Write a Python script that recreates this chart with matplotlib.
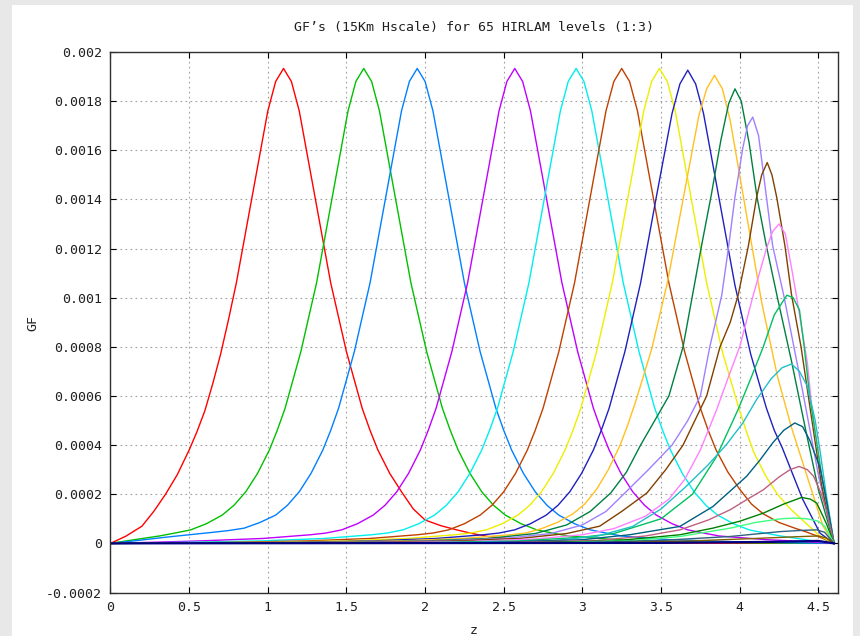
"""
GF weighting functions for 65 HIRLAM levels (every 3rd level) - gnuplot look-alike
"""
import matplotlib
matplotlib.use('Agg')  # no display
import matplotlib.pyplot as plt
import numpy as np
from matplotlib.patches import Rectangle

plt.rcParams['font.family'] = ['DejaVu Sans Mono', 'DejaVu Sans']

# GF values below in units of 1e-4
GF_UNIT = 1e-4

levels = [1, 4, 7, 10, 13, 16, 19, 22, 25, 28, 31, 34, 37, 40, 43, 46, 49, 52, 55, 58, 61, 64]
colors = ['#ff0000', '#00c000', '#0080ff', '#c000ff', '#00eeee', '#c04000', '#eeee00', '#2020c0',
          '#ffc020', '#008040', '#a080ff', '#804000', '#ff80ff', '#00c060', '#20c0c8', '#006080',
          '#c06080', '#008000', '#40ff80', '#306080', '#806000', '#000080']

z_01 = [0.0, 0.1, 0.2, 0.275, 0.35, 0.425, 0.5, 0.55, 0.6, 0.65, 0.7, 0.75, 0.8, 0.9, 1.0, 1.05,
        1.1, 1.15, 1.2, 1.3, 1.4, 1.5, 1.6, 1.65, 1.7, 1.775, 1.85, 1.925, 2.0, 2.1, 2.2, 2.3,
        2.4, 2.55, 2.7, 2.9, 3.1, 3.6, 4.6]
gf_01 = [0.0, 0.3, 0.7, 1.3, 2.0, 2.8, 3.8, 4.55, 5.4, 6.5, 7.7, 9.1, 10.6, 14.1, 17.6, 18.8,
         19.33, 18.8, 17.6, 14.1, 10.6, 7.8, 5.5, 4.6, 3.8, 2.85, 2.1, 1.4, 0.95, 0.72, 0.55, 0.4,
         0.28, 0.18, 0.11, 0.07, 0.04, 0.01, 0.0]

z_02 = [0.0, 0.1, 0.31, 0.41, 0.51, 0.61, 0.71, 0.785, 0.86, 0.935, 1.01, 1.06, 1.11, 1.21, 1.31,
        1.41, 1.51, 1.56, 1.61, 1.66, 1.71, 1.81, 1.91, 2.01, 2.11, 2.16, 2.21, 2.285, 2.36, 2.435,
        2.51, 2.61, 2.71, 2.81, 2.91, 3.21, 3.61, 4.1, 4.6]
gf_02 = [0.0, 0.1, 0.3, 0.42, 0.55, 0.8, 1.15, 1.55, 2.1, 2.85, 3.8, 4.6, 5.5, 7.8, 10.6,
         14.1, 17.6, 18.8, 19.33, 18.8, 17.6, 14.1, 10.6, 7.8, 5.5, 4.6, 3.8, 2.85, 2.1, 1.55,
         1.15, 0.8, 0.55, 0.42, 0.3, 0.15, 0.07, 0.02, 0.0]

z_03 = [0.0, 0.15, 0.35, 0.65, 0.75, 0.85, 0.95, 1.05, 1.125, 1.2, 1.275, 1.35, 1.4, 1.45, 1.55,
        1.65, 1.75, 1.85, 1.9, 1.95, 2.0, 2.05, 2.15, 2.25, 2.35, 2.45, 2.5, 2.55, 2.625, 2.7,
        2.775, 2.85, 2.95, 3.05, 3.15, 3.25, 3.55, 3.95, 4.3, 4.6]
gf_03 = [0.0, 0.1, 0.25, 0.45, 0.52, 0.62, 0.85, 1.15, 1.55, 2.1, 2.85, 3.8, 4.6, 5.5, 7.8,
         10.6, 14.1, 17.6, 18.8, 19.33, 18.8, 17.6, 14.1, 10.6, 7.8, 5.5, 4.6, 3.8, 2.85, 2.1,
         1.55, 1.15, 0.8, 0.55, 0.42, 0.3, 0.15, 0.07, 0.03, 0.0]

z_04 = [0.0, 0.3, 0.57, 0.97, 1.27, 1.37, 1.47, 1.57, 1.67, 1.745, 1.82, 1.895, 1.97, 2.02, 2.07,
        2.17, 2.27, 2.37, 2.47, 2.52, 2.57, 2.62, 2.67, 2.77, 2.87, 2.97, 3.07, 3.12, 3.17, 3.245,
        3.32, 3.395, 3.47, 3.57, 3.67, 3.77, 3.87, 4.17, 4.4, 4.6]
gf_04 = [0.0, 0.05, 0.1, 0.2, 0.35, 0.42, 0.55, 0.8, 1.15, 1.55, 2.1, 2.85, 3.8, 4.6, 5.5,
         7.8, 10.6, 14.1, 17.6, 18.8, 19.33, 18.8, 17.6, 14.1, 10.6, 7.8, 5.5, 4.6, 3.8, 2.85,
         2.1, 1.55, 1.15, 0.8, 0.55, 0.42, 0.3, 0.15, 0.08, 0.0]

z_05 = [0.0, 0.46, 0.96, 1.36, 1.66, 1.76, 1.86, 1.96, 2.06, 2.135, 2.21, 2.285, 2.36, 2.41, 2.46,
        2.56, 2.66, 2.76, 2.86, 2.91, 2.96, 3.01, 3.06, 3.16, 3.26, 3.36, 3.46, 3.51, 3.56, 3.635,
        3.71, 3.785, 3.86, 3.96, 4.06, 4.16, 4.26, 4.45, 4.6]
gf_05 = [0.0, 0.04, 0.1, 0.2, 0.35, 0.42, 0.55, 0.8, 1.15, 1.55, 2.1, 2.85, 3.8, 4.6, 5.5,
         7.8, 10.6, 14.1, 17.6, 18.8, 19.33, 18.8, 17.6, 14.1, 10.6, 7.8, 5.5, 4.6, 3.8, 2.85,
         2.1, 1.55, 1.15, 0.8, 0.55, 0.42, 0.3, 0.12, 0.0]

z_06 = [0.0, 0.75, 1.25, 1.65, 1.95, 2.05, 2.15, 2.25, 2.35, 2.425, 2.5, 2.575, 2.65, 2.7, 2.75,
        2.85, 2.95, 3.05, 3.15, 3.2, 3.25, 3.3, 3.35, 3.45, 3.55, 3.65, 3.75, 3.8, 3.85, 3.925,
        4.0, 4.075, 4.15, 4.25, 4.35, 4.43, 4.5, 4.6]
gf_06 = [0.0, 0.04, 0.1, 0.2, 0.35, 0.42, 0.55, 0.8, 1.15, 1.55, 2.1, 2.85, 3.8, 4.6, 5.5,
         7.8, 10.6, 14.1, 17.6, 18.8, 19.33, 18.8, 17.6, 14.1, 10.6, 7.8, 5.5, 4.6, 3.8, 2.9,
         2.2, 1.6, 1.2, 0.85, 0.62, 0.45, 0.28, 0.0]

z_07 = [0.0, 0.99, 1.49, 1.89, 2.19, 2.29, 2.39, 2.49, 2.59, 2.665, 2.74, 2.815, 2.89, 2.94, 2.99,
        3.09, 3.19, 3.29, 3.39, 3.44, 3.49, 3.54, 3.59, 3.69, 3.79, 3.89, 3.99, 4.04, 4.09, 4.165,
        4.24, 4.315, 4.39, 4.45, 4.51, 4.6]
gf_07 = [0.0, 0.04, 0.1, 0.2, 0.35, 0.42, 0.55, 0.8, 1.15, 1.55, 2.1, 2.85, 3.8, 4.6, 5.5,
         7.8, 10.6, 14.1, 17.6, 18.8, 19.33, 18.8, 17.6, 14.1, 10.6, 7.8, 5.6, 4.6, 3.7, 2.75,
         2.0, 1.45, 1.0, 0.65, 0.3, 0.0]

z_08 = [0.0, 1.17, 1.67, 2.07, 2.37, 2.47, 2.57, 2.67, 2.77, 2.845, 2.92, 2.995, 3.07, 3.12, 3.17,
        3.27, 3.37, 3.47, 3.57, 3.62, 3.67, 3.72, 3.77, 3.87, 3.97, 4.07, 4.17, 4.22, 4.27, 4.335,
        4.4, 4.46, 4.51, 4.6]
gf_08 = [0.0, 0.04, 0.1, 0.2, 0.35, 0.42, 0.55, 0.8, 1.15, 1.55, 2.1, 2.85, 3.8, 4.6, 5.5,
         7.8, 10.6, 14.1, 17.5, 18.7, 19.26, 18.7, 17.5, 14.0, 10.5, 7.7, 5.5, 4.6, 3.9, 2.85,
         1.8, 1.05, 0.42, 0.0]

z_09 = [0.0, 1.34, 1.84, 2.24, 2.54, 2.64, 2.74, 2.84, 2.94, 3.015, 3.09, 3.165, 3.24, 3.29, 3.34,
        3.44, 3.54, 3.64, 3.74, 3.79, 3.84, 3.89, 3.94, 4.04, 4.14, 4.24, 4.33, 4.44, 4.53, 4.6]
gf_09 = [0.0, 0.04, 0.1, 0.2, 0.35, 0.42, 0.6, 0.85, 1.2, 1.6, 2.2, 3.0, 4.0, 4.85, 5.8,
         7.9, 10.6, 14.0, 17.4, 18.5, 19.05, 18.5, 17.2, 13.5, 9.8, 6.8, 4.7, 2.5, 0.7, 0.0]

z_10 = [0.0, 1.5, 2.0, 2.4, 2.7, 2.9, 3.05, 3.18, 3.28, 3.37, 3.46, 3.55, 3.64, 3.7, 3.76, 3.82,
        3.88, 3.93, 3.97, 4.01, 4.06, 4.11, 4.17, 4.24, 4.33, 4.42, 4.5, 4.6]
gf_10 = [0.0, 0.04, 0.1, 0.2, 0.4, 0.75, 1.3, 2.05, 2.9, 4.0, 5.0, 6.0, 8.0, 10.1, 12.2, 14.2,
         16.4, 17.9, 18.5, 18.0, 16.3, 14.1, 12.1, 10.0, 7.4, 4.6, 2.2, 0.0]

z_11 = [0.0, 1.6, 2.1, 2.5, 2.8, 3.0, 3.15, 3.27, 3.42, 3.57, 3.67, 3.75, 3.81, 3.886, 3.93, 3.97,
        4.02, 4.05, 4.083, 4.12, 4.17, 4.21, 4.28, 4.4, 4.5, 4.6]
gf_11 = [0.0, 0.04, 0.1, 0.2, 0.4, 0.75, 1.3, 2.05, 3.0, 4.0, 5.0, 6.0, 8.0, 10.1, 12.1, 14.1,
         16.1, 17.0, 17.35, 16.6, 14.1, 12.1, 10.1, 6.2, 2.8, 0.0]

z_12 = [0.0, 1.7, 2.2, 2.6, 2.9, 3.11, 3.25, 3.41, 3.53, 3.64, 3.73, 3.79, 3.875, 3.94, 3.99, 4.055,
        4.108, 4.14, 4.175, 4.205, 4.235, 4.288, 4.33, 4.39, 4.45, 4.52, 4.6]
gf_12 = [0.0, 0.04, 0.1, 0.2, 0.4, 0.7, 1.3, 2.05, 3.0, 4.0, 5.2, 6.0, 8.0, 9.0, 10.1, 12.1,
         14.1, 15.0, 15.5, 15.0, 14.1, 12.1, 10.1, 8.0, 5.4, 2.4, 0.0]

z_13 = [0.0, 1.8, 2.3, 2.7, 3.0, 3.2, 3.4, 3.55, 3.65, 3.75, 3.854, 3.93, 4.0, 4.086, 4.17, 4.21,
        4.25, 4.29, 4.33, 4.36, 4.43, 4.46, 4.52, 4.6]
gf_13 = [0.0, 0.03, 0.08, 0.18, 0.35, 0.6, 1.1, 1.8, 2.6, 3.8, 5.45, 6.8, 8.0, 10.1, 12.0, 12.7,
         13.0, 12.6, 11.2, 10.1, 7.35, 5.45, 2.8, 0.0]

z_14 = [0.0, 2.0, 2.6, 3.0, 3.2, 3.5, 3.7, 3.85, 3.99, 4.07, 4.15, 4.22, 4.3, 4.34, 4.38, 4.41,
        4.445, 4.52, 4.6]
gf_14 = [0.0, 0.03, 0.1, 0.25, 0.4, 1.0, 2.0, 3.5, 5.45, 6.7, 8.0, 9.3, 10.1, 10.0, 9.5, 8.0,
         6.0, 2.8, 0.0]

z_15 = [0.0, 2.2, 2.8, 3.1, 3.32, 3.5, 3.66, 3.8, 3.917, 4.02, 4.108, 4.2, 4.27, 4.33, 4.38, 4.43,
        4.48, 4.51, 4.55, 4.6]
gf_15 = [0.0, 0.03, 0.1, 0.3, 0.69, 1.4, 2.32, 3.2, 4.03, 4.9, 5.86, 6.7, 7.15, 7.3, 7.0, 6.4,
         5.0, 3.8, 2.0, 0.0]

z_16 = [0.0, 2.4, 3.0, 3.3, 3.62, 3.83, 4.044, 4.13, 4.21, 4.28, 4.35, 4.4, 4.445, 4.51, 4.55, 4.6]
gf_16 = [0.0, 0.03, 0.15, 0.35, 0.69, 1.5, 2.73, 3.4, 4.09, 4.6, 4.9, 4.75, 4.2, 3.1, 1.8, 0.0]

z_17 = [0.0, 2.5, 3.1, 3.4, 3.62, 3.8, 3.94, 4.05, 4.15, 4.25, 4.32, 4.377, 4.43, 4.47, 4.52, 4.55, 4.6]
gf_17 = [0.0, 0.03, 0.12, 0.3, 0.55, 0.95, 1.37, 1.8, 2.18, 2.7, 3.0, 3.13, 3.0, 2.73, 2.0, 1.37, 0.0]

z_18 = [0.0, 2.6, 3.2, 3.62, 3.83, 4.0, 4.15, 4.28, 4.394, 4.45, 4.49, 4.55, 4.6]
gf_18 = [0.0, 0.02, 0.1, 0.35, 0.62, 0.9, 1.23, 1.6, 1.87, 1.8, 1.64, 0.82, 0.0]

z_19 = [0.0, 2.8, 3.3, 3.62, 3.94, 4.1, 4.26, 4.35, 4.43, 4.5, 4.54, 4.6]
gf_19 = [0.0, 0.02, 0.1, 0.28, 0.62, 0.85, 1.0, 1.03, 1.0, 0.9, 0.7, 0.0]

z_20 = [0.0, 3.0, 3.5, 3.94, 4.26, 4.4, 4.49, 4.54, 4.6]
gf_20 = [0.0, 0.03, 0.12, 0.28, 0.48, 0.53, 0.55, 0.45, 0.0]

z_21 = [0.0, 3.2, 3.7, 4.1, 4.4, 4.5, 4.55, 4.6]
gf_21 = [0.0, 0.03, 0.1, 0.2, 0.28, 0.3, 0.22, 0.0]

z_22 = [0.0, 3.5, 4.2, 4.5, 4.6]
gf_22 = [0.0, 0.02, 0.06, 0.1, 0.0]

z_lists = [z_01, z_02, z_03, z_04, z_05, z_06, z_07, z_08, z_09, z_10, z_11,
           z_12, z_13, z_14, z_15, z_16, z_17, z_18, z_19, z_20, z_21, z_22]
gf_lists = [gf_01, gf_02, gf_03, gf_04, gf_05, gf_06, gf_07, gf_08, gf_09, gf_10, gf_11,
            gf_12, gf_13, gf_14, gf_15, gf_16, gf_17, gf_18, gf_19, gf_20, gf_21, gf_22]

x_ticks = [0, 0.5, 1, 1.5, 2, 2.5, 3, 3.5, 4, 4.5]
x_tick_labels = ['0', '0.5', '1', '1.5', '2', '2.5', '3', '3.5', '4', '4.5']
y_ticks = [-0.0002, 0, 0.0002, 0.0004, 0.0006, 0.0008, 0.001, 0.0012, 0.0014, 0.0016, 0.0018, 0.002]
y_tick_labels = ['-0.0002', '0', '0.0002', '0.0004', '0.0006', '0.0008', '0.001',
                 '0.0012', '0.0014', '0.0016', '0.0018', '0.002']

title = 'GF’s (15Km Hscale) for 65 HIRLAM levels (1:3)'

W, H = 860, 636
fig = plt.figure(figsize=(W / 100, H / 100), dpi=100, facecolor='#e8e8e8')
# white page inside the grey frame
fig.add_artist(Rectangle((12 / W, 0), 841 / W, 631 / H, transform=fig.transFigure,
                         facecolor='white', edgecolor='none', zorder=-1))

ax = fig.add_axes([110.5 / W, 1 - 592.5 / H, 727.5 / W, 540.5 / H])
ax.set_facecolor('white')

for lev, z, gf, c in zip(levels, z_lists, gf_lists, colors):
    lw = 1.6 if lev == levels[-1] else 1.0
    ax.plot(z, np.array(gf) * GF_UNIT, color=c, linewidth=lw)

ax.set_xlim(0, 4.625)
ax.set_ylim(-0.0002, 0.002)
ax.set_xticks(x_ticks)
ax.set_xticklabels(x_tick_labels)
ax.set_yticks(y_ticks)
ax.set_yticklabels(y_tick_labels)
ax.tick_params(direction='in', length=4.5, width=0.8, top=True, right=True,
               labelsize=9.5, pad=6, labelcolor='#202020')

ax.grid(True, color='#a0a0a0', linestyle=(0, (1.5, 3)), linewidth=0.8)
ax.set_axisbelow(True)
for sp in ax.spines.values():
    sp.set_color('#303030')
    sp.set_linewidth(1.0)

fig.text(474 / W, 1 - 28 / H, title, ha='center', va='center', fontsize=9.5, color='#202020')
fig.text(33 / W, 1 - 323 / H, 'GF', rotation=90, ha='center', va='center', fontsize=9.5, color='#202020')
fig.text(474 / W, 1 - 631 / H, 'z', ha='center', va='center', fontsize=9.5, color='#202020')

fig.savefig('out.png', dpi=100, facecolor=fig.get_facecolor())
plt.close(fig)
